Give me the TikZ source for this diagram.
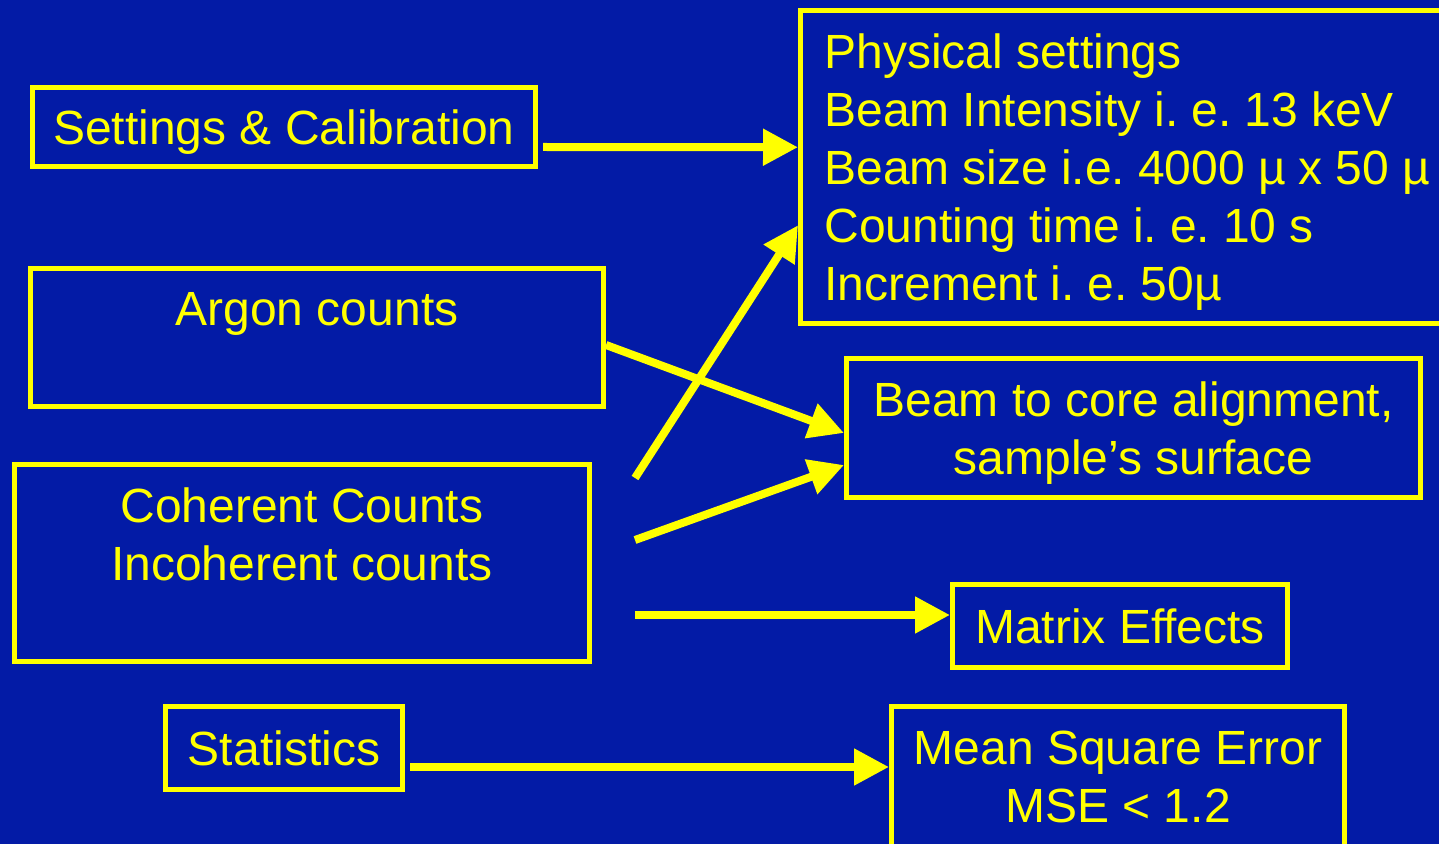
\documentclass[tikz,border=0pt]{standalone}
\usepackage{fontspec}
\setmainfont{Liberation Sans}
\usetikzlibrary{arrows.meta}
\definecolor{slideblue}{RGB}{3,27,166}
\definecolor{slideyellow}{RGB}{255,255,0}
\frenchspacing
\newcommand{\tightspaces}{\spaceskip=6.5pt\relax}

\begin{document}
\begin{tikzpicture}[
            x=0.5pt,y=-0.5pt,
            block/.style={draw=slideyellow,rectangle,line width=2.5pt,inner sep=0pt,align=center,
                          text=slideyellow,font=\fontsize{24}{29}\selectfont},
            line/.style={-{Triangle[length=17.5pt,width=17.5pt]},draw=slideyellow,line width=4pt}
        ]
        \fill[slideblue] (0,0) rectangle (1439,844);
        \useasboundingbox (0,0) rectangle (1439,844);
        % left column
        \node[block,minimum width=251.5pt,minimum height=39.5pt,text depth=0pt] (settings) at (284,127)
            {Settings \& Calibration};
        \node[block,minimum width=286.5pt,minimum height=69pt] (argon) at (317,337.5)
            {Argon counts\\~};
        \node[block,minimum width=287.5pt,minimum height=98.5pt] (coherent) at (302,563)
            {Coherent Counts\\Incoherent counts\\~};
        \node[block,minimum width=118.5pt,minimum height=41.5pt] (stats) at (284,748)
            {Statistics};
        % right column
        \node[block,minimum height=156.75pt,text width=330pt,inner xsep=12pt,align=left,
              anchor=west] (physical) at (798,167.25)
            {\tightspaces\rule{0pt}{22.5pt}Physical settings\\Beam Intensity i. e. 13 keV\\
             Beam size i.e. 4000 µ x 50 µ\\Counting time i. e. 10 s\\Increment i. e. 50µ};
        \node[block,minimum width=287pt,minimum height=69.5pt,text depth=0pt] (beam) at (1133.5,428)
            {Beam to core alignment,\\sample’s surface};
        \node[block,minimum width=167.5pt,minimum height=41.5pt] (matrix) at (1120,626)
            {Matrix Effects};
        \node[block,minimum width=226.5pt,minimum height=100pt] (mse) at (1118,806)
            {Mean Square Error\\MSE < 1.2\\~};
        % arrows
        \draw[line] ([xshift=2.5pt,yshift=-10pt]settings.east) -- ([yshift=10pt]physical.west);
        \draw[line] ([yshift=-3.75pt]argon.east) -- ([yshift=-2.5pt]beam.west);
        \draw[line] ([xshift=21.5pt,yshift=42.5pt]coherent.east) -- ([yshift=-29pt]physical.west);
        \draw[line] ([xshift=21.5pt,yshift=11.5pt]coherent.east) -- ([yshift=-18.5pt]beam.west);
        \draw[line] ([xshift=21.5pt,yshift=-26pt]coherent.east) -- ([yshift=5.5pt]matrix.west);
        \draw[line] ([xshift=2.5pt,yshift=-9.5pt]stats.east) -- ([yshift=19.5pt]mse.west);
        \end{tikzpicture}
\end{document}
